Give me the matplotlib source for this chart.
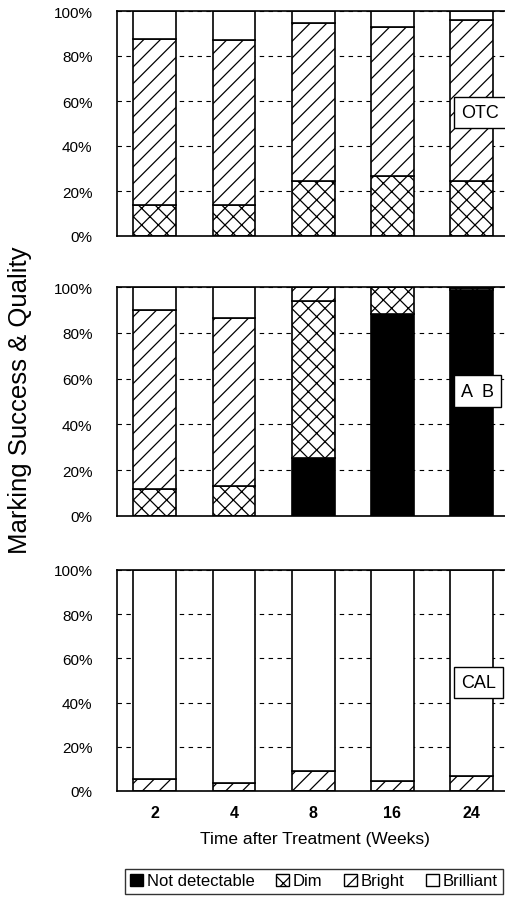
import matplotlib
matplotlib.use("Agg")
import matplotlib.pyplot as plt
from matplotlib.patches import Patch

plt.rcParams['font.family'] = ['Liberation Sans', 'DejaVu Sans']
plt.rcParams['hatch.linewidth'] = 0.9

# weeks after treatment
weeks = ['2', '4', '8', '16', '24']

# percent of fish per mark quality, one list per treatment
otc_not = [0, 0, 0, 0, 0]
otc_dim = [14.0, 13.6, 24.6, 26.8, 24.6]
otc_bright = [73.5, 73.6, 69.9, 65.9, 71.2]
otc_brilliant = [12.5, 12.8, 5.5, 7.3, 4.2]

ab_not = [0, 0, 25.5, 88.0, 98.5]
ab_dim = [12.0, 13.2, 68.5, 12.0, 1.0]
ab_bright = [78.0, 73.3, 6.0, 0, 0.5]
ab_brilliant = [10.0, 13.5, 0, 0, 0]

cal_not = [0, 0, 0, 0, 0]
cal_dim = [0, 0, 0, 0, 0]
cal_bright = [5.5, 3.5, 9.0, 4.7, 6.9]
cal_brilliant = [94.5, 96.5, 91.0, 95.3, 93.1]

panels = [
    ('OTC', otc_not, otc_dim, otc_bright, otc_brilliant, 55),
    ('A  B', ab_not, ab_dim, ab_bright, ab_brilliant, 54.5),
    ('CAL', cal_not, cal_dim, cal_bright, cal_brilliant, 49),
]

W, H = 505, 904
fig = plt.figure(figsize=(W / 100, H / 100), dpi=100)

# panel extents in pixels (top, bottom)
rows = [(12, 237), (288, 517), (571, 792)]
left_px, width_px = 116.7, 396

x = list(range(len(weeks)))
bw = 0.54

for i, (name, nd, dim, bright, brill, label_y) in enumerate(panels):
    top, bot = rows[i]
    ax = fig.add_axes([left_px / W, 1 - bot / H, width_px / W, (bot - top) / H])

    b1 = [a for a in nd]
    b2 = [a + b for a, b in zip(b1, dim)]
    b3 = [a + b for a, b in zip(b2, bright)]
    ax.bar(x, nd, bw, color='black', edgecolor='black', linewidth=1.2, zorder=2)
    ax.bar(x, dim, bw, bottom=b1, color='white', edgecolor='black', hatch='xx', linewidth=1.2, zorder=2)
    ax.bar(x, bright, bw, bottom=b2, color='white', edgecolor='black', hatch='//', linewidth=1.2, zorder=2)
    ax.bar(x, brill, bw, bottom=b3, color='white', edgecolor='black', linewidth=1.2, zorder=2)

    ax.set_xlim(-0.48, 4.52)
    ax.set_ylim(0, 100)
    ax.set_yticks([0, 20, 40, 60, 80, 100])
    ax.set_yticklabels(['0%', '20%', '40%', '60%', '80%', '100%'])
    ax.set_axisbelow(True)
    ax.yaxis.grid(True, color='black', linestyle=(0, (4, 4)), linewidth=0.8)
    ax.tick_params(axis='y', length=0, pad=17.5, labelsize=11)
    for s in ax.spines.values():
        s.set_linewidth(1.2)

    ax.set_xticks(x)
    if i == 2:
        ax.set_xticklabels(weeks, fontsize=11.5, fontweight='bold')
        ax.tick_params(axis='x', length=0, pad=10)
        ax.set_xlabel('Time after Treatment (Weeks)', fontsize=12.5, labelpad=8)
    else:
        ax.set_xticklabels([])
        ax.tick_params(axis='x', length=0)

    ax.text(3.87, label_y, name, fontsize=13, ha='left', va='center', zorder=5,
            bbox=dict(boxstyle='square,pad=0.4', facecolor='white', edgecolor='black', linewidth=1.0))

fig.text(20 / W, 1 - 400 / H, 'Marking Success & Quality', rotation=90,
         fontsize=18.5, ha='center', va='center')

handles = [
    Patch(facecolor='black', edgecolor='black'),
    Patch(facecolor='white', edgecolor='black', hatch='xx'),
    Patch(facecolor='white', edgecolor='black', hatch='//'),
    Patch(facecolor='white', edgecolor='black'),
]
leg = fig.legend(handles, ['Not detectable', 'Dim', 'Bright', 'Brilliant'],
                 loc='center', bbox_to_anchor=(314 / W, 1 - 882 / H), ncol=4,
                 fontsize=12, frameon=True, fancybox=False, handlelength=0.75,
                 handleheight=0.75, handletextpad=0.25, columnspacing=1.3,
                 borderpad=0.3, borderaxespad=0)
leg.get_frame().set_edgecolor('black')
leg.get_frame().set_linewidth(1.0)

fig.savefig('out.png', dpi=100)
